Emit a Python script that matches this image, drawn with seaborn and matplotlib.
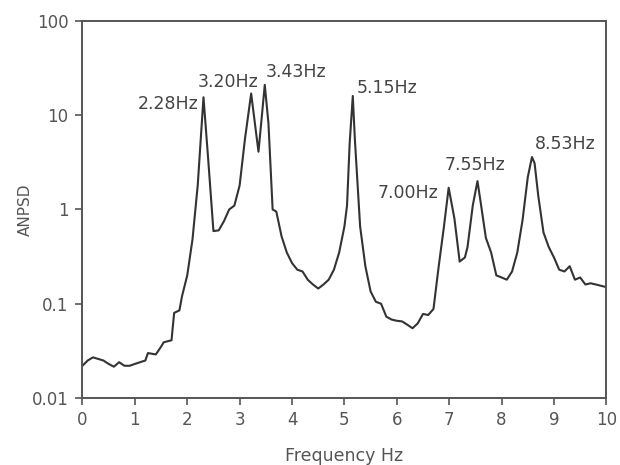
import matplotlib
matplotlib.use("Agg")
import matplotlib.pyplot as plt
import seaborn as sns
import pandas as pd
from matplotlib.ticker import FixedLocator, FixedFormatter, NullLocator

# ---- data ----
freq = [0.0, 0.1, 0.2, 0.3, 0.4, 0.5, 0.6, 0.7, 0.8, 0.9, 1.0, 1.1, 1.2, 1.25, 1.4, 1.5, 1.55,
        1.7, 1.75, 1.85, 1.9, 2.0, 2.1, 2.2, 2.31, 2.4, 2.5, 2.6, 2.7, 2.8, 2.9, 3.0, 3.1,
        3.22, 3.3, 3.36, 3.48, 3.55, 3.63, 3.7, 3.8, 3.9, 4.0, 4.1, 4.2, 4.3, 4.4, 4.5, 4.6,
        4.7, 4.8, 4.9, 5.0, 5.05, 5.1, 5.16, 5.2, 5.3, 5.4, 5.5, 5.6, 5.7, 5.8, 5.9, 6.0,
        6.1, 6.2, 6.3, 6.4, 6.5, 6.6, 6.7, 6.8, 6.9, 6.99, 7.1, 7.2, 7.3, 7.35, 7.45, 7.54,
        7.6, 7.7, 7.8, 7.9, 8.0, 8.1, 8.2, 8.3, 8.4, 8.5, 8.58, 8.63, 8.7, 8.8, 8.9, 9.0,
        9.1, 9.2, 9.3, 9.4, 9.5, 9.6, 9.7, 9.8, 9.9, 10.0]
anpsd = [0.022, 0.025, 0.027, 0.026, 0.025, 0.023, 0.0215, 0.024, 0.022, 0.022, 0.023,
         0.024, 0.025, 0.030, 0.029, 0.035, 0.039, 0.041, 0.080, 0.085, 0.12, 0.20, 0.48,
         1.8, 15.5, 3.4, 0.59, 0.60, 0.75, 1.0, 1.1, 1.8, 5.5, 17.0, 7.5, 4.1, 21.0, 8.2,
         1.0, 0.95, 0.52, 0.35, 0.27, 0.23, 0.22, 0.18, 0.16, 0.145, 0.16, 0.18, 0.23,
         0.35, 0.66, 1.1, 5.0, 16.0, 5.5, 0.66, 0.25, 0.135, 0.105, 0.10, 0.073, 0.068,
         0.066, 0.065, 0.060, 0.055, 0.062, 0.078, 0.076, 0.088, 0.25, 0.66, 1.7, 0.8,
         0.28, 0.31, 0.40, 1.1, 2.0, 1.2, 0.50, 0.35, 0.20, 0.19, 0.18, 0.22, 0.35, 0.77,
         2.2, 3.6, 3.1, 1.4, 0.57, 0.40, 0.31, 0.23, 0.22, 0.25, 0.18, 0.19, 0.16, 0.165,
         0.16, 0.155, 0.15]

peak_labels = ["2.28Hz", "3.20Hz", "3.43Hz", "5.15Hz", "7.00Hz", "7.55Hz", "8.53Hz"]
label_x = [2.21, 2.77, 3.50, 5.24, 6.79, 7.50, 8.64]
label_y = [13.2, 22.5, 28.8, 19.5, 1.48, 2.97, 5.0]
label_ha = ["right", "center", "left", "left", "right", "center", "left"]

x_ticks = [0, 1, 2, 3, 4, 5, 6, 7, 8, 9, 10]
y_ticks = [0.01, 0.1, 1, 10, 100]
y_tick_labels = ["0.01", "0.1", "1", "10", "100"]

# ---- plot ----
sns.set_style("white")
plt.rcParams["font.family"] = ["DejaVu Sans"]

df = pd.DataFrame({"Frequency": freq, "ANPSD": anpsd})

fig = plt.figure(figsize=(6.2, 4.65), dpi=100)
ax = fig.add_axes([0.133, 0.144, 0.845, 0.811])
sns.lineplot(data=df, x="Frequency", y="ANPSD", ax=ax, color="#333333", linewidth=1.5)

ax.set_yscale("log")
ax.set_xlim(0, 10)
ax.set_ylim(0.01, 100)
ax.xaxis.set_major_locator(FixedLocator(x_ticks))
ax.set_xticklabels([str(t) for t in x_ticks])
ax.yaxis.set_major_locator(FixedLocator(y_ticks))
ax.yaxis.set_major_formatter(FixedFormatter(y_tick_labels))
ax.yaxis.set_minor_locator(NullLocator())

ax.tick_params(axis="both", which="major", direction="out", length=5, width=1.2,
               color="#555555", labelcolor="#555555", labelsize=12, bottom=True, left=True)
ax.tick_params(axis="y", pad=5)
ax.tick_params(axis="x", pad=4)
for s in ax.spines.values():
    s.set_color("#555555")
    s.set_linewidth(1.4)
    s.set_visible(True)

ax.set_xlabel("Frequency Hz", fontsize=12.5, color="#555555", labelpad=13)
ax.set_ylabel("ANPSD", fontsize=11, color="#555555", labelpad=-1)

for t, x, y, ha in zip(peak_labels, label_x, label_y, label_ha):
    ax.text(x, y, t, ha=ha, va="center", fontsize=12.5, color="#444444")

fig.savefig("out.png", dpi=100)
